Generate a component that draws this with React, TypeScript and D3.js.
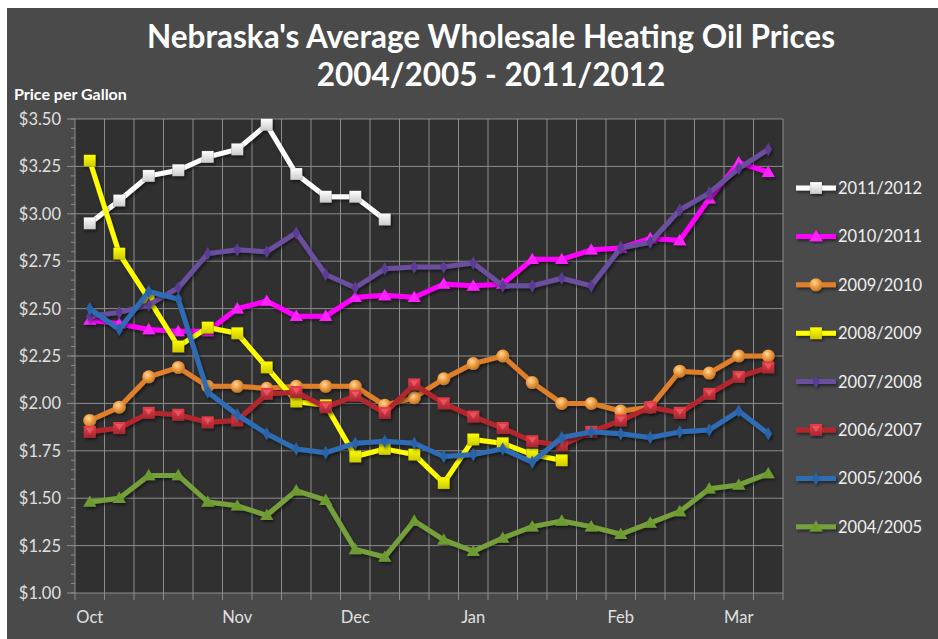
import * as d3 from 'd3';
import * as React from 'react';

const weeks = d3.range(24);
const weekLabels = ['Oct', '', '', '', '', 'Nov', '', '', '', 'Dec', '', '', '', 'Jan', '', '', '', '', 'Feb', '', '', '', 'Mar', ''];
const yTicks = [1.0, 1.25, 1.5, 1.75, 2.0, 2.25, 2.5, 2.75, 3.0, 3.25, 3.5];

const s2011 = [2.95, 3.07, 3.2, 3.23, 3.3, 3.34, 3.47, 3.21, 3.09, 3.09, 2.97];
const s2010 = [2.44, 2.42, 2.39, 2.38, 2.38, 2.5, 2.54, 2.46, 2.46, 2.56, 2.57, 2.56, 2.63, 2.62, 2.63, 2.76, 2.76, 2.81, 2.82, 2.87, 2.86, 3.08, 3.27, 3.22];
const s2009 = [1.91, 1.98, 2.14, 2.19, 2.09, 2.09, 2.08, 2.09, 2.09, 2.09, 1.99, 2.03, 2.13, 2.21, 2.25, 2.11, 2.0, 2.0, 1.96, 1.98, 2.17, 2.16, 2.25, 2.25];
const s2008 = [3.28, 2.79, 2.55, 2.3, 2.4, 2.37, 2.19, 2.01, 1.99, 1.72, 1.76, 1.73, 1.58, 1.81, 1.79, 1.73, 1.7];
const s2007 = [2.46, 2.48, 2.52, 2.61, 2.79, 2.81, 2.8, 2.9, 2.68, 2.61, 2.71, 2.72, 2.72, 2.74, 2.62, 2.62, 2.66, 2.62, 2.82, 2.85, 3.02, 3.11, 3.24, 3.34];
const s2006 = [1.85, 1.87, 1.95, 1.94, 1.9, 1.91, 2.05, 2.06, 1.98, 2.04, 1.95, 2.1, 2.0, 1.93, 1.87, 1.8, 1.78, 1.85, 1.91, 1.98, 1.95, 2.05, 2.14, 2.19];
const s2005 = [2.5, 2.39, 2.59, 2.55, 2.06, 1.94, 1.84, 1.76, 1.74, 1.79, 1.8, 1.79, 1.72, 1.73, 1.76, 1.69, 1.82, 1.85, 1.84, 1.82, 1.85, 1.86, 1.96, 1.84];
const s2004 = [1.48, 1.5, 1.62, 1.62, 1.48, 1.46, 1.41, 1.54, 1.49, 1.23, 1.19, 1.38, 1.28, 1.22, 1.29, 1.35, 1.38, 1.35, 1.31, 1.37, 1.43, 1.55, 1.57, 1.63];

type Marker = 'square' | 'triangle' | 'circle' | 'diamond' | 'redsq';

interface ISeries {
  name: string;
  values: number[];
  line: string;
  fill: string;
  marker: Marker;
}

// legend order = draw order (later ones on top)
const series: ISeries[] = [
  { name: '2011/2012', values: s2011, line: '#ffffff', fill: '#f2f2f2', marker: 'square' },
  { name: '2010/2011', values: s2010, line: '#ff00ff', fill: '#ff20ff', marker: 'triangle' },
  { name: '2009/2010', values: s2009, line: '#e07f2c', fill: '#f09a3c', marker: 'circle' },
  { name: '2008/2009', values: s2008, line: '#ffff00', fill: '#f4f000', marker: 'square' },
  { name: '2007/2008', values: s2007, line: '#6b4f9e', fill: '#5a3d92', marker: 'diamond' },
  { name: '2006/2007', values: s2006, line: '#b3282d', fill: '#c0303a', marker: 'redsq' },
  { name: '2005/2006', values: s2005, line: '#2f6db5', fill: '#2a62a8', marker: 'diamond' },
  { name: '2004/2005', values: s2004, line: '#76a03a', fill: '#6e9a33', marker: 'triangle' },
];

const W = 938;
const H = 639;
const plot = { left: 75, right: 783, top: 119, bottom: 593 };
const font = 'Lato, "Open Sans", sans-serif';

const MarkerShape: React.FC<{ kind: Marker; x: number; y: number; fill: string; id: number }> = ({ kind, x, y, fill, id }) => {
  if (kind === 'square') {
    return <rect x={x - 6} y={y - 6} width={12} height={12} fill={`url(#grad${id})`} stroke="rgba(0,0,0,0.25)" strokeWidth={0.5} />;
  }
  if (kind === 'redsq') {
    return (
      <g>
        <rect x={x - 6} y={y - 6} width={12} height={12} fill={`url(#grad${id})`} />
        <path d={`M${x - 4},${y - 4}L${x + 4},${y - 4}L${x},${y + 2}Z`} fill="#e8606a" opacity={0.8} />
      </g>
    );
  }
  if (kind === 'circle') {
    return <circle cx={x} cy={y} r={6.5} fill={`url(#rgrad${id})`} />;
  }
  if (kind === 'diamond') {
    const sym = d3.symbol(d3.symbolDiamond, 50)();
    return <path d={sym ?? ''} transform={`translate(${x},${y})`} fill={fill} />;
  }
  const tri = d3.symbol(d3.symbolTriangle, 75)();
  return <path d={tri ?? ''} transform={`translate(${x},${y + 1})`} fill={fill} />;
};

export default function App() {
  const x = d3.scaleBand<number>().domain(weeks).range([plot.left, plot.right]);
  const y = d3.scaleLinear().domain([1, 3.5]).range([plot.bottom, plot.top]);
  const cx = (i: number) => (x(i) ?? 0) + x.bandwidth() / 2;
  const line = d3
    .line<number>()
    .x((_, i) => cx(i))
    .y((d) => y(d));
  const minorTicks = d3.range(1, 3.5001, 0.05);
  const legendY = (i: number) => 188 + i * 48.4;

  return (
    <svg width={W} height={H} style={{ position: 'absolute', left: 0, top: 0 }} fontFamily={font}>
      <defs>
        <filter id="shadow" x="-10%" y="-10%" width="120%" height="130%">
          <feDropShadow dx={1.5} dy={2} stdDeviation={1.5} floodColor="#000" floodOpacity={0.5} />
        </filter>
        {series.map((s, i) => (
          <React.Fragment key={i}>
            <linearGradient id={`grad${i}`} x1="0" y1="0" x2="0" y2="1">
              <stop offset="0" stopColor={d3.color(s.fill)!.brighter(0.6).toString()} />
              <stop offset="1" stopColor={d3.color(s.fill)!.darker(0.5).toString()} />
            </linearGradient>
            <radialGradient id={`rgrad${i}`} cx="0.4" cy="0.35" r="0.7">
              <stop offset="0" stopColor="#ffd9a0" />
              <stop offset="0.5" stopColor={s.fill} />
              <stop offset="1" stopColor={d3.color(s.fill)!.darker(0.8).toString()} />
            </radialGradient>
          </React.Fragment>
        ))}
      </defs>
      <rect width={W} height={H} fill="#ffffff" />
      <rect x={7} y={8} width={W - 7} height={H - 8} fill="#4a4a4a" />
      <rect x={plot.left} y={plot.top} width={plot.right - plot.left} height={plot.bottom - plot.top} fill="#303030" />

      {/* grid */}
      {yTicks.map((t) => (
        <line key={`h${t}`} x1={plot.left} x2={plot.right} y1={y(t)} y2={y(t)} stroke="#8c8c8c" strokeWidth={1} />
      ))}
      {weeks.concat([24]).map((i) => {
        const gx = i === 24 ? plot.right : x(i) ?? 0;
        return (
          <g key={`v${i}`}>
            <line x1={gx} x2={gx} y1={plot.top} y2={plot.bottom} stroke="#8c8c8c" strokeWidth={1} />
            <line x1={gx} x2={gx} y1={plot.bottom} y2={plot.bottom + 7} stroke="#8c8c8c" strokeWidth={1} />
          </g>
        );
      })}
      {minorTicks.map((t, i) => (
        <line key={`m${i}`} x1={plot.left - 4} x2={plot.left} y1={y(t)} y2={y(t)} stroke="#8c8c8c" strokeWidth={1} />
      ))}
      {yTicks.map((t) => (
        <line key={`mt${t}`} x1={plot.left - 8} x2={plot.left} y1={y(t)} y2={y(t)} stroke="#8c8c8c" strokeWidth={1} />
      ))}

      {/* y labels */}
      {yTicks.map((t) => (
        <text key={`yl${t}`} x={61} y={y(t) + 6} textAnchor="end" fill="#e0e0e0" fontSize={16.5}>
          {d3.format('$.2f')(t)}
        </text>
      ))}
      {/* x labels */}
      {weekLabels.map((l, i) =>
        l ? (
          <text key={`xl${i}`} x={cx(i)} y={623} textAnchor="middle" fill="#e0e0e0" fontSize={16.5}>
            {l}
          </text>
        ) : null
      )}

      {/* series */}
      {series.map((s, si) => (
        <g key={s.name} filter="url(#shadow)">
          <path d={line(s.values) ?? ''} fill="none" stroke={s.line} strokeWidth={5} strokeLinejoin="round" />
          {s.values.map((v, i) => (
            <MarkerShape key={i} kind={s.marker} x={cx(i)} y={y(v)} fill={s.fill} id={si} />
          ))}
        </g>
      ))}

      {/* legend */}
      {series.map((s, si) => (
        <g key={`lg${si}`}>
          <g filter="url(#shadow)">
            <line x1={796} x2={836} y1={legendY(si)} y2={legendY(si)} stroke={s.line} strokeWidth={5} />
            <MarkerShape kind={s.marker} x={816} y={legendY(si)} fill={s.fill} id={si} />
          </g>
          <text x={838} y={legendY(si) + 6} fill="#f0f0f0" fontSize={16.5}>
            {s.name}
          </text>
        </g>
      ))}

      {/* titles */}
      <text x={491} y={48} textAnchor="middle" fill="#ffffff" fontSize={31.5} fontWeight="bold">
        Nebraska's Average Wholesale Heating Oil Prices
      </text>
      <text x={491} y={86} textAnchor="middle" fill="#ffffff" fontSize={31.5} fontWeight="bold">
        2004/2005 - 2011/2012
      </text>
      <text x={14} y={100} fill="#ffffff" fontSize={16} fontWeight="bold">
        Price per Gallon
      </text>
    </svg>
  );
}
